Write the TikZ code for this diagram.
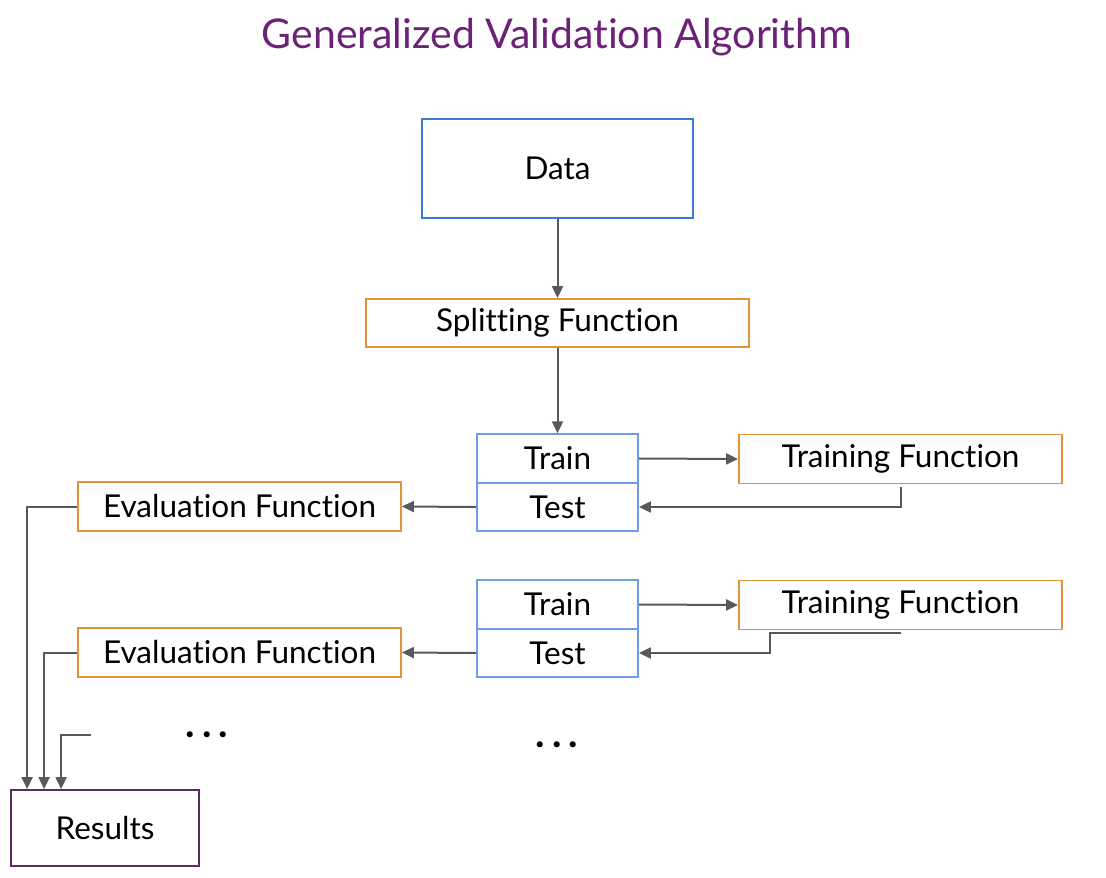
\documentclass[tikz,border=0pt]{standalone}
\usepackage{fontspec}
\setmainfont{Lato}[Ligatures=NoCommon]
\usepackage{tikz}
\usetikzlibrary{arrows.meta}

\definecolor{datablue}{HTML}{3C78D8}
\definecolor{splitblue}{HTML}{6D9EEB}
\definecolor{funcorange}{HTML}{E69138}
\definecolor{titlepurple}{HTML}{6B2277}
\definecolor{respurple}{HTML}{5B2A63}
\definecolor{linegray}{HTML}{595959}

\tikzset{
	box/.style={draw, line width=1.8pt, inner sep=0pt, font=\fontsize{31.5}{36}\selectfont},
	funcbox/.style={box, draw=funcorange, minimum width=323pt, minimum height=49pt},
	setbox/.style={box, draw=splitblue, minimum width=161pt, minimum height=48.5pt},
	arr/.style={draw=linegray, line width=2pt, -{Triangle[length=12pt,width=11pt]}},
	dotsnode/.style={font=\fontsize{40}{46}\bfseries}
}

\begin{document}
\begin{tikzpicture}[x=1pt,y=-1pt]
		\useasboundingbox (0,0) rectangle (1106,878);
		\node[text=titlepurple, font=\fontsize{41}{46}\selectfont] (title) at (557,37) {Generalized Validation Algorithm};
		\node[box, draw=datablue, minimum width=271pt, minimum height=99pt] (data) at (557.5,168.5) {Data};
		\node[funcbox, minimum width=383pt, minimum height=48pt] (split) at (557.5,323) {Splitting Function};
		\draw[arr] (data) -- (split);
		% one train/test split per fold
		\foreach \k/\y/\bend in {1/0/0, 2/146/-131}{
			\node[setbox] (train\k) at (557.5,458.5+\y) {Train};
			\node[setbox] (test\k) at (557.5,507+\y) {Test};
			\node[funcbox] (tf\k) at (900.5,459+\y) {Training Function};
			\node[funcbox] (ev\k) at (239.5,506.5+\y) {Evaluation Function};
			\draw[arr] (train\k.east) -- (tf\k.west);
			\draw[arr] (test\k.west) -- (ev\k.east);
			\draw[arr] ([yshift=-2.5pt]tf\k.south) -- ++(\bend,0) |- (test\k.east);
		}
		\draw[arr] (split) -- (train1);
		\node[dotsnode] (dotsl) at (207,735) {.\kern7pt.\kern7pt.};
		\node[dotsnode] (dotsr) at (557,745) {.\kern7pt.\kern7pt.};
		\node[box, draw=respurple, minimum width=188pt, minimum height=76pt] (results) at (105,828) {Results};
		\coordinate (more) at (91,735);
		\draw[arr] (ev1.west) -| ([xshift=17pt]results.north west);
		\draw[arr] (ev2.west) -| ([xshift=34pt]results.north west);
		\draw[arr] (more) -| ([xshift=51pt]results.north west);
	\end{tikzpicture}
\end{document}
